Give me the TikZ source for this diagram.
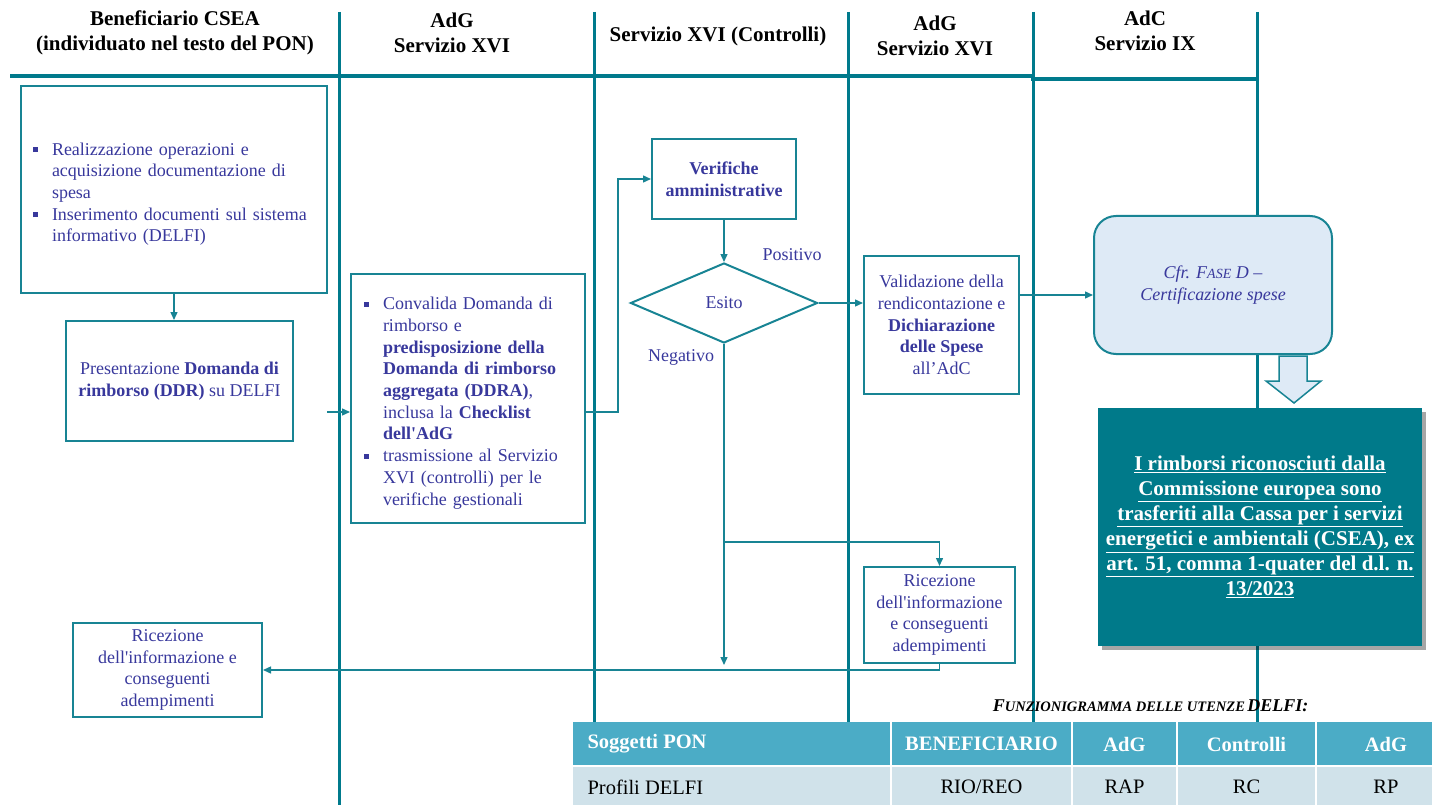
\documentclass[tikz,border=0pt]{standalone}
\usepackage{fontspec}
\setmainfont{Liberation Serif}[Ligatures=TeXOff]
\usetikzlibrary{arrows.meta,shapes.geometric,shadows}

\definecolor{lane}{RGB}{0,122,140}
\definecolor{boxline}{RGB}{24,132,148}
\definecolor{txtblue}{RGB}{56,56,156}
\definecolor{cfrfill}{RGB}{222,234,246}
\definecolor{tealbox}{RGB}{0,122,138}
\definecolor{thead}{RGB}{75,172,198}
\definecolor{tbody}{RGB}{208,226,234}

\newcommand{\bitem}{\par\hangindent=19pt\hangafter=1\noindent\makebox[19pt][l]{\rule[3pt]{5pt}{5pt}}}

\tikzset{
  laneline/.style={draw=lane, line width=3pt},
  lanetitle/.style={font=\fontsize{21}{25}\selectfont\bfseries, align=center},
  proc/.style={draw=boxline, line width=2pt, text=txtblue, font=\fontsize{18}{21.7}\selectfont, align=center, inner sep=0pt},
  bullbox/.style={draw=boxline, line width=2pt, text=txtblue, font=\fontsize{18}{21.7}\selectfont, inner sep=0pt},
  flow/.style={draw=boxline, line width=1.4pt, -{Triangle[length=8pt,width=7pt]}},
  lbl/.style={text=txtblue, font=\fontsize{18}{21.7}\selectfont},
  thtext/.style={text=white, font=\fontsize{20.5}{24}\selectfont\bfseries},
  tdtext/.style={text=black, font=\fontsize{20.5}{24}\selectfont}
}

\begin{document}
\begin{tikzpicture}[x=1pt,y=-1pt]
        \useasboundingbox (0,0) rectangle (1432,805);
        \foreach \lx/\ly in {339/805, 594/722, 848/722, 1033/722, 1257/722}
            \draw[laneline] (\lx,12) -- (\lx,\ly);
        \draw[laneline, line width=3.5pt] (10,76) -- (1033,76) -- (1033,79) -- (1257,79);

        \node[lanetitle] (benefhd) at (175,33) {Beneficiario CSEA\\(individuato nel testo del PON)};
        \node[lanetitle] (adghd)   at (452,33) {AdG\\Servizio XVI};
        \node[lanetitle] (ctrlhd)  at (718,36) {Servizio XVI (Controlli)};
        \node[lanetitle] (adg2hd)  at (935,36) {AdG\\Servizio XVI};
        \node[lanetitle] (adchd)   at (1145,31) {AdC\\Servizio IX};

        \node[bullbox, text width=282pt, inner xsep=12pt, minimum height=207pt] (real) at (174,189.5)
            {\raggedright\bitem Realizzazione operazioni e\newline acquisizione documentazione di\newline spesa
             \bitem Inserimento documenti sul sistema\newline informativo (DELFI)\par};
        \node[proc, minimum width=227pt, minimum height=120pt] (ddr) at (179.5,381)
            {Presentazione \textbf{Domanda di}\\\textbf{rimborso (DDR)} su DELFI};
        \node[bullbox, text width=208pt, inner xsep=13pt, minimum height=249pt] (conv) at (468,398.5)
            {\raggedright\bitem Convalida Domanda di\newline rimborso e\newline \textbf{predisposizione della}\newline \textbf{Domanda di rimborso}\newline \textbf{aggregata (DDRA)},\newline inclusa la \textbf{Checklist}\newline \textbf{dell'AdG}
             \bitem trasmissione al Servizio\newline XVI (controlli) per le\newline verifiche gestionali\par};
        \node[proc, minimum width=144pt, minimum height=80pt, font=\fontsize{18}{21.7}\selectfont\bfseries] (verif) at (724,179)
            {Verifiche\\amministrative};
        \node[proc, diamond, aspect=2.34, minimum width=187pt, minimum height=80pt] (esito) at (724,303) {Esito};
        \node[lbl] (pos) at (792,255) {Positivo};
        \node[lbl] (neg) at (681,357) {Negativo};
        \node[proc, minimum width=155pt, minimum height=138pt] (valid) at (941.5,325)
            {Validazione della\\rendicontazione e\\\textbf{Dichiarazione}\\\textbf{delle Spese}\\all’AdC};
        \node[proc, rounded corners=22pt, fill=cfrfill, minimum width=238pt, minimum height=138pt, font=\fontsize{18}{22.5}\selectfont\itshape] (cfr) at (1213,285)
            {Cfr. F{\fontsize{14}{17}\selectfont ASE} D –\\Certificazione spese};
        \node[fill=tealbox, drop shadow={shadow xshift=4pt, shadow yshift=-4pt, opacity=0.35, fill=black}, minimum width=324pt, minimum height=238pt,
              text=white, font=\fontsize{21}{25}\selectfont\bfseries, align=center] (rimb) at (1260,527)
            {\underline{I rimborsi riconosciuti dalla}\\\underline{Commissione europea sono}\\\underline{trasferiti alla Cassa per i servizi}\\
             \underline{energetici e ambientali (CSEA), ex}\\\underline{art. 51, comma 1-quater del d.l. n.}\\\underline{13/2023}};
        \node[proc, minimum width=151pt, minimum height=96pt] (ric2) at (939.5,615)
            {Ricezione\\dell'informazione\\e conseguenti\\adempimenti};
        \node[proc, minimum width=189pt, minimum height=94pt] (ric1) at (167.5,670)
            {Ricezione\\dell'informazione e\\conseguenti\\adempimenti};

        \draw[draw=boxline, fill=cfrfill, line width=1.5pt]
            (1279,356) -- (1307,356) -- (1307,381) -- (1321,381) -- (1294,403) -- (1266,381) -- (1279,381) -- cycle;

        \coordinate (cin) at (327,412);
        \coordinate (cfrin) at ([yshift=-10pt]cfr.west);
        \coordinate (split) at (724,542);
        \coordinate (nego) at (724,665);
        \draw[flow] (real.south) -- (real.south |- ddr.north);
        \draw[flow] (cin) -- (cin -| conv.west);
        \draw[flow] (cin -| conv.east) -- ++(32,0) |- (verif.west);
        \draw[flow] (verif.south) -- (esito.north);
        \draw[flow] (esito.east) -- (esito.east -| valid.west);
        \draw[flow] (cfrin -| valid.east) -- (cfrin);
        \draw[flow] (esito.south) -- (nego);
        \draw[flow] (split) -| (ric2.north);
        \draw[flow] (ric2.south) |- (ric1.east);

        \node[anchor=east, font=\bfseries\itshape] (funz) at (1312,706)
            {{\fontsize{18}{20}\selectfont F}{\fontsize{14.5}{16}\selectfont UNZIONIGRAMMA DELLE UTENZE} {\fontsize{18}{20}\selectfont DELFI:}};
        \foreach \cl/\cr in {572/891, 891/1072, 1072/1177, 1177/1316, 1316/1432} {
            \fill[thead] (\cl,722) rectangle (\cr,766);
            \fill[tbody] (\cl,766) rectangle (\cr,805);
            \draw[white, line width=2pt] (\cl,722) -- (\cl,805);
        }
        \draw[white, line width=2pt] (572,766) -- (1432,766);
        \node[thtext, anchor=west] (soggetti) at (584,744) {Soggetti PON};
        \node[thtext] (hbenef) at (981.5,744) {BENEFICIARIO};
        \node[thtext] (hadg)   at (1124.5,744) {AdG};
        \node[thtext] (hctrl)  at (1246.5,744) {Controlli};
        \node[thtext] (hadg2)  at (1386,744) {AdG};
        \node[tdtext, anchor=west] (profili) at (584,787) {Profili DELFI};
        \node[tdtext] (prio)  at (981.5,787) {RIO/REO};
        \node[tdtext] (prap)  at (1124.5,787) {RAP};
        \node[tdtext] (prc)   at (1246.5,787) {RC};
        \node[tdtext] (prp)   at (1386,787) {RP};
\end{tikzpicture}
\end{document}
